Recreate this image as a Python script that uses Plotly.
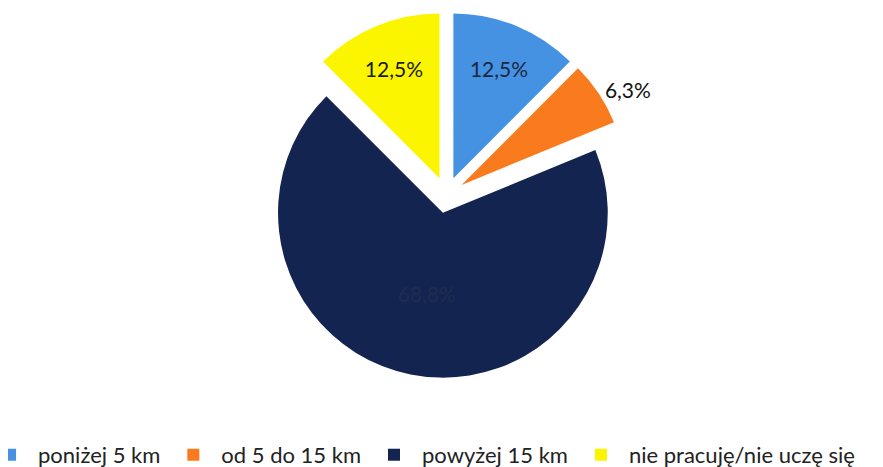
import plotly.graph_objects as go

categories = ["poniżej 5 km", "od 5 do 15 km", "powyżej 15 km", "nie pracuję/nie uczę się"]
values = [12.5, 6.3, 68.8, 12.5]
value_labels = ["12,5%", "6,3%", "68,8%", "12,5%"]
colors = ["#4592e3", "#fa7a1e", "#12244f", "#fbf500"]
text_colors = ["#1c2740", "#111111", "#1f2c4e", "#1a1a1a"]
positions = ["inside", "outside", "inside", "inside"]

fig = go.Figure(go.Pie(
    labels=categories,
    values=values,
    text=value_labels,
    texttemplate="%{text}",
    textinfo="text",
    textposition=positions,
    insidetextorientation="horizontal",
    textfont=dict(family="Lato", size=21, color=text_colors),
    marker=dict(colors=colors, line=dict(width=0)),
    pull=[0.11, 0.11, 0.11, 0.11],
    sort=False,
    direction="clockwise",
    rotation=0,
    hole=0,
    automargin=False,
    domain=dict(x=[0.2893, 0.7038], y=[0.2077, 0.9914]),
))

fig.update_layout(
    width=883,
    height=467,
    margin=dict(l=0, r=0, t=0, b=0, autoexpand=False),
    paper_bgcolor="white",
    plot_bgcolor="white",
    showlegend=True,
    legend=dict(
        orientation="h",
        x=-0.0294,
        xanchor="left",
        y=-0.002,
        yanchor="bottom",
        font=dict(family="Lato", size=22, color="#222222"),
        itemwidth=46,
        traceorder="normal",
    ),
)

fig.write_html("out.html")
